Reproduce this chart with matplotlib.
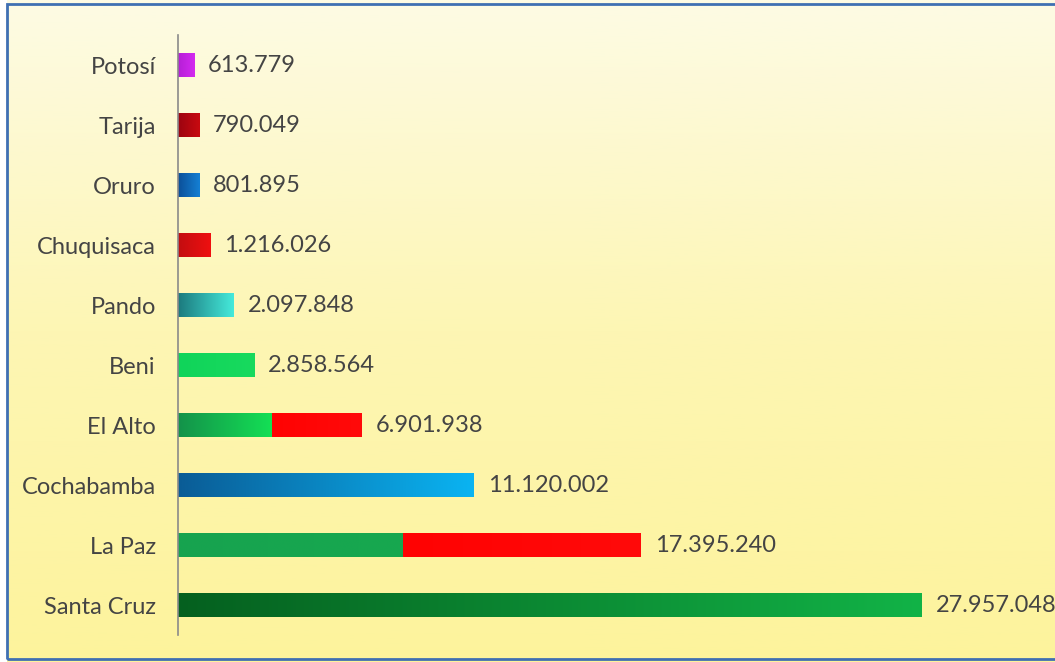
import numpy as np
import matplotlib.pyplot as plt
from matplotlib.colors import LinearSegmentedColormap
from matplotlib.patches import Rectangle

# Departments / cities, bottom to top
places = ['Santa Cruz', 'La Paz', 'Cochabamba', 'El Alto', 'Beni',
          'Pando', 'Chuquisaca', 'Oruro', 'Tarija', 'Potosí']
totals = [27957048, 17395240, 11120002, 6901938, 2858564,
          2097848, 1216026, 801895, 790049, 613779]
# first (green) part of the split bars; None means single colour bar
first_part = [None, 8460000, None, 3530000, None,
              None, None, None, None, None]

# gradient (left colour, right colour) per bar / segment
grad_main = [('#05601f', '#12b347'), ('#17a34f', '#17a850'), ('#0a5c96', '#0ab4f2'),
             ('#13924a', '#14e055'), ('#10d45a', '#18da5e'), ('#1c7a7e', '#45eadb'),
             ('#c20d10', '#ef1010'), ('#0b4f98', '#1580d4'), ('#9c0410', '#c80a10'),
             ('#b51fd6', '#d42af0')]
grad_second = ('#ff0202', '#ff0a0a')


def fmt(v):
    return f'{v:,}'.replace(',', '.')


def fill_gradient(ax, bar, c0, c1):
    x, y = bar.get_x(), bar.get_y()
    w, h = bar.get_width(), bar.get_height()
    cmap = LinearSegmentedColormap.from_list('g', [c0, c1])
    im = ax.imshow(np.linspace(0, 1, 256).reshape(1, -1), cmap=cmap, aspect='auto',
                   extent=(x, x + w, y, y + h), zorder=2, interpolation='bicubic')
    im.set_clip_path(bar)
    bar.set_alpha(0)


fig = plt.figure(figsize=(10.55, 6.62), dpi=100)
fig.patch.set_facecolor('white')

# pale yellow background with a soft gradient
bg = fig.add_axes([0, 0, 1, 1], zorder=-1)
bg_cmap = LinearSegmentedColormap.from_list('bg', ['#fdfbe4', '#fdf6b4', '#fdf39c'])
bg.imshow(np.linspace(0, 1, 256).reshape(-1, 1), cmap=bg_cmap, aspect='auto',
          extent=(0, 1, 0, 1))
bg.set_xlim(0, 1)
bg.set_ylim(0, 1)
bg.axis('off')
fig.patches.append(Rectangle((0, 0), 7 / 1055, 1, transform=fig.transFigure,
                             facecolor='white', edgecolor='none', zorder=5))
fig.patches.append(Rectangle((7 / 1055, 3 / 662), 1.1, 655 / 662, transform=fig.transFigure,
                             facecolor='none', edgecolor='#3f6fb2', linewidth=2, zorder=6))

ax = fig.add_axes([178 / 1055, 27 / 662, (1040 - 178) / 1055, 600 / 662])
ax.set_facecolor('none')
ypos = np.arange(len(places))
h = 0.39

for i, (tot, part) in enumerate(zip(totals, first_part)):
    first = tot if part is None else part
    b = ax.barh(i, first, height=h, color='none', zorder=2)[0]
    fill_gradient(ax, b, *grad_main[i])
    if part is not None:
        b2 = ax.barh(i, tot - part, left=part, height=h, color='none', zorder=2)[0]
        fill_gradient(ax, b2, *grad_second)
    ax.text(tot + 520000, i, fmt(tot), va='center', ha='left', fontsize=17,
            color='#444444', family='Lato', clip_on=False)

ax.set_xlim(0, 32400000)
ax.set_ylim(-0.5, len(places) - 0.5)
ax.set_yticks(ypos)
ax.set_yticklabels(places, fontsize=17, color='#444444', family='Lato')
ax.tick_params(axis='y', length=0, pad=16)
ax.set_xticks([])
for s in ['top', 'right', 'bottom']:
    ax.spines[s].set_visible(False)
ax.spines['left'].set_color('#8a8a8a')
ax.spines['left'].set_linewidth(1.2)

fig.savefig('out.png', dpi=100)
